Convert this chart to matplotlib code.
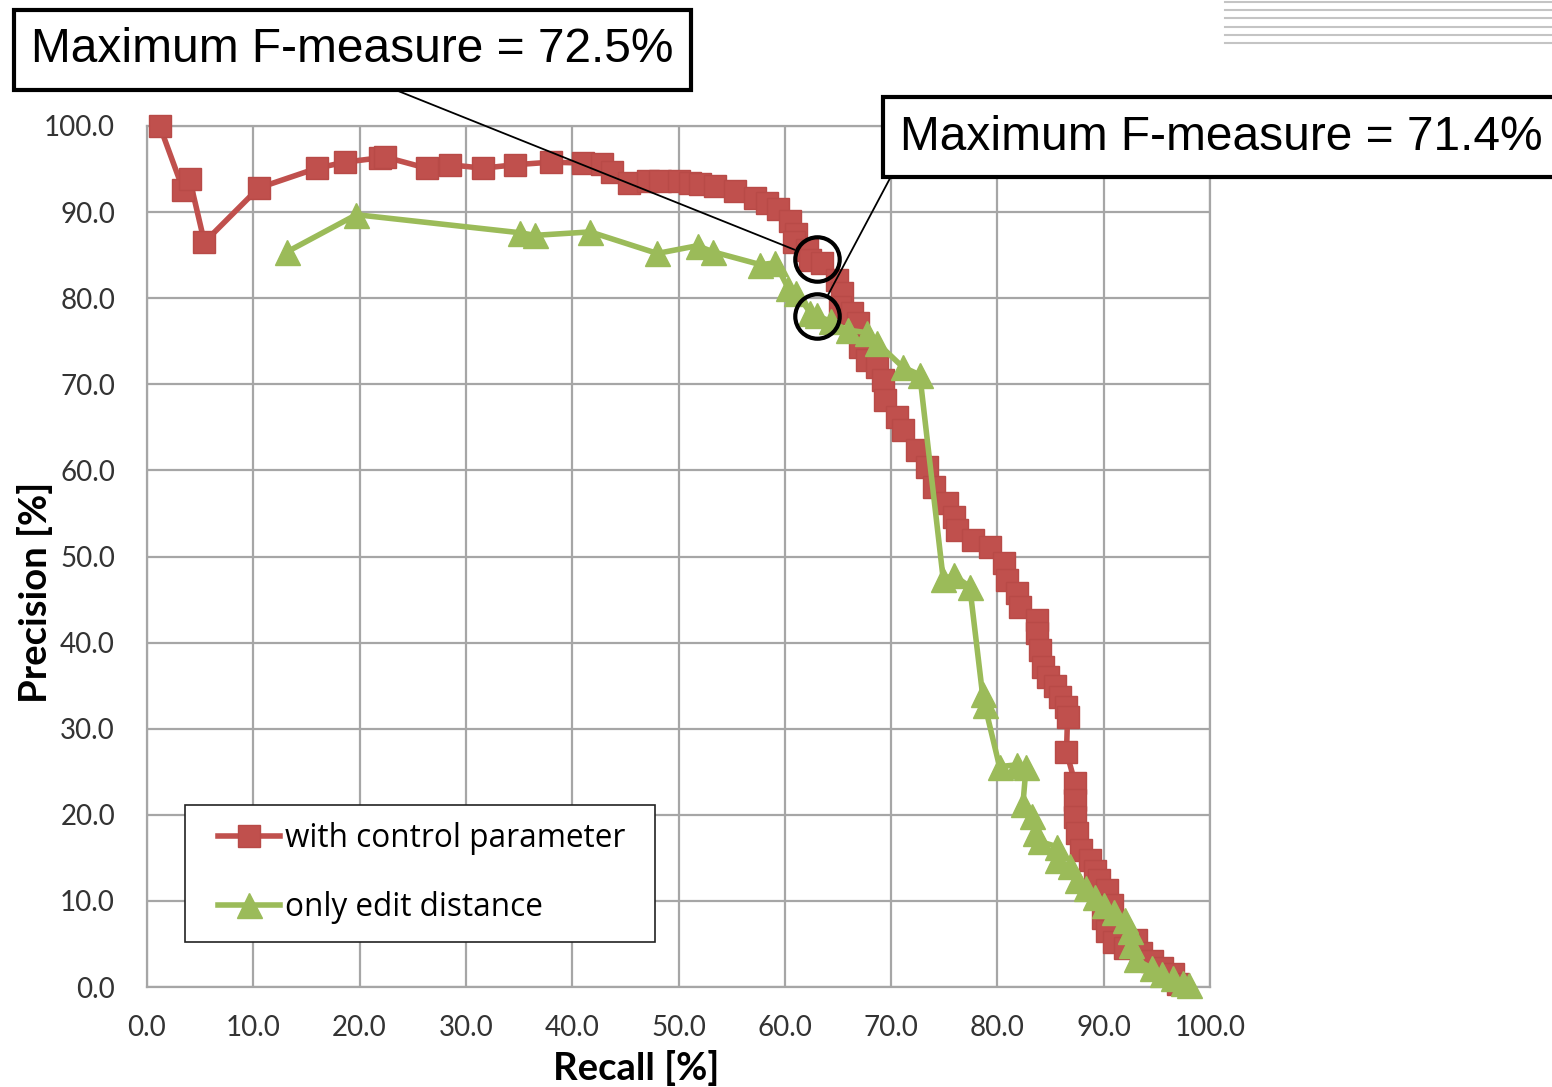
import matplotlib
matplotlib.use("Agg")
import matplotlib.pyplot as plt
from matplotlib.lines import Line2D
from matplotlib.patches import Rectangle

# ---- data ----
red_recall = [1.2, 3.4, 4.0, 5.4, 10.5, 16.0, 18.6, 21.9, 22.4, 26.3, 28.5, 31.6, 34.6,
              38.0, 41.0, 42.8, 43.7, 45.3, 47.1, 48.3, 50.0, 51.1, 52.0, 53.4, 55.3,
              57.2, 58.3, 59.4, 60.5, 61.1, 60.9, 62.1, 62.4, 63.5, 64.9, 65.4, 65.2,
              66.3, 66.9, 67.1, 67.7, 68.7, 69.2, 69.4, 70.6, 71.1, 72.4, 73.4, 74.0,
              75.3, 75.9, 76.2, 77.7, 79.3, 80.6, 80.9, 81.8, 82.1, 83.7, 83.7, 84.0,
              84.3, 84.8, 85.4, 85.9, 86.5, 86.6, 86.5, 87.3, 87.3, 87.3, 87.5, 87.9,
              88.7, 89.2, 89.6, 90.3, 90.8, 89.9, 90.3, 91.0, 92.0, 93.0, 93.5, 94.5,
              95.5, 96.5, 97.0]
red_precision = [100.0, 92.6, 93.9, 86.5, 92.8, 95.1, 95.8, 96.3, 96.4, 95.1, 95.5, 95.1, 95.5,
                 95.8, 95.7, 95.6, 94.6, 93.4, 93.6, 93.6, 93.6, 93.4, 93.3, 93.0, 92.5,
                 91.6, 91.1, 90.4, 89.0, 87.5, 86.5, 85.6, 84.4, 84.1, 82.1, 80.6, 79.0,
                 78.3, 77.1, 74.3, 72.8, 72.0, 70.5, 68.2, 66.2, 64.7, 62.4, 60.4, 58.1,
                 56.2, 54.6, 53.1, 51.9, 51.1, 49.2, 47.3, 45.8, 44.1, 42.6, 41.1, 39.1,
                 37.2, 36.0, 35.0, 33.7, 32.5, 31.4, 27.3, 23.7, 21.7, 19.7, 17.9, 15.9,
                 14.7, 13.5, 12.4, 11.3, 9.5, 8.0, 6.5, 5.2, 4.5, 5.5, 4.0, 3.0,
                 2.2, 1.5, 0.3]

green_recall = [13.2, 19.7, 35.1, 36.5, 41.7, 48.0, 51.8, 53.2, 57.7, 59.1, 60.3, 61.1,
                62.4, 63.0, 64.3, 65.9, 67.7, 68.7, 71.1, 72.7, 74.9, 75.9, 77.4, 78.6,
                78.8, 80.2, 81.8, 82.7, 82.4, 83.3, 83.5, 84.0, 85.6, 85.6, 86.8, 87.5,
                88.3, 89.2, 90.0, 91.0, 92.0, 92.5, 92.6, 93.0, 94.5, 95.5, 96.5, 97.5, 98.0]
green_precision = [85.4, 89.7, 87.6, 87.3, 87.7, 85.2, 86.1, 85.4, 83.9, 84.1, 81.2, 80.6,
                   78.3, 78.0, 77.3, 76.3, 76.0, 74.8, 72.0, 71.1, 47.4, 47.8, 46.5, 34.0,
                   32.8, 25.6, 25.8, 25.6, 21.2, 19.9, 17.9, 16.9, 16.3, 14.8, 14.0, 12.4,
                   11.5, 10.5, 9.5, 8.7, 7.8, 6.5, 4.9, 3.2, 2.2, 1.5, 1.0, 0.5, 0.2]

best_red = (63.0, 84.6)
best_green = (63.0, 77.9)

series_labels = ["with control parameter", "only edit distance"]
ticks = [0, 10, 20, 30, 40, 50, 60, 70, 80, 90, 100]
tick_labels = ["0.0", "10.0", "20.0", "30.0", "40.0", "50.0", "60.0", "70.0", "80.0", "90.0", "100.0"]
ann_texts = ["Maximum F-measure = 72.5%", "Maximum F-measure = 71.4%"]

RED = "#C0504D"
GREEN = "#9BBB59"
GRID = "#A6A6A6"

W, H = 1552, 1087
fig = plt.figure(figsize=(W / 100, H / 100), dpi=100)
ax = fig.add_axes([147 / W, 1 - 987 / H, (1210 - 147) / W, (987 - 126) / H])

ax.plot(red_recall, red_precision, color=RED, lw=4, marker="s", ms=16.5,
        mfc=RED, mec="#B84A47", clip_on=False, zorder=3, label=series_labels[0])
ax.plot(green_recall, green_precision, color=GREEN, lw=4, marker="^", ms=18,
        mfc=GREEN, mec=GREEN, clip_on=False, zorder=4, label=series_labels[1])

ax.set_xlim(0, 100)
ax.set_ylim(0, 100)
ax.set_xticks(ticks)
ax.set_yticks(ticks)
ax.set_xticklabels(tick_labels)
ax.set_yticklabels(tick_labels)
ax.grid(True, color=GRID, lw=1.6)
ax.set_axisbelow(True)
for s in ax.spines.values():
    s.set_color(GRID)
    s.set_linewidth(1.6)
ax.tick_params(length=0, labelsize=20, colors="#333333")
ax.tick_params(axis="y", pad=23)
ax.tick_params(axis="x", pad=20)
for lab in ax.get_xticklabels() + ax.get_yticklabels():
    lab.set_family("Lato")

ax.set_xlabel("Recall [%]", family="Lato", fontweight="bold", fontsize=27.5, va="center")
ax.set_ylabel("Precision [%]", family="Lato", fontweight="bold", fontsize=27.5, va="center")
ax.xaxis.set_label_coords((636 - 147) / 1063, (987 - 1068) / 861)
ax.yaxis.set_label_coords((35 - 147) / 1063, (987 - 592) / 861)

# legend frame drawn as a plain rectangle, legend entries placed inside it
ax.add_patch(Rectangle(((185 - 147) / 1063, (987 - 942) / 861), 470 / 1063, 137 / 861,
                       transform=ax.transAxes, fc="white", ec="#222222", lw=1.2, zorder=5))
leg = ax.legend(loc="center left", bbox_to_anchor=((218 - 147) / 1063, (987 - 873) / 861),
                prop={"family": "Open Sans", "size": 22.7}, frameon=False,
                handlelength=1.97, handletextpad=0.16, labelspacing=1.14, borderpad=0,
                borderaxespad=0, numpoints=1)
leg.set_zorder(6)

# circles marking the maxima
ax.plot([best_red[0]], [best_red[1]], marker="o", ms=32, mfc="none", mec="black", mew=3, zorder=6)
ax.plot([best_green[0]], [best_green[1]], marker="o", ms=32, mfc="none", mec="black", mew=3, zorder=6)

ax.annotate(ann_texts[0], xy=best_red, xycoords="data",
            xytext=(352 / W, 1 - 50 / H), textcoords="figure fraction",
            ha="center", va="center", fontsize=34.5, family="Liberation Sans",
            bbox=dict(boxstyle="square,pad=0.36", fc="white", ec="black", lw=3),
            arrowprops=dict(arrowstyle="-", color="black", lw=1.3, relpos=(0.5, 0.0),
                            shrinkA=0, shrinkB=17), zorder=7)
ax.annotate(ann_texts[1], xy=best_green, xycoords="data",
            xytext=(900 / W, 1 - 137 / H), textcoords="figure fraction",
            ha="left", va="center", fontsize=34.5, family="Liberation Sans",
            bbox=dict(boxstyle="square,pad=0.36", fc="white", ec="black", lw=3),
            arrowprops=dict(arrowstyle="-", color="black", lw=1.3, relpos=(0.0, 0.0),
                            shrinkA=0, shrinkB=17), zorder=7)

# decorative grey lines at top-right
for yy in [2, 10, 18, 27, 35, 43]:
    fig.add_artist(Line2D([1225 / W, 1.0], [1 - yy / H, 1 - yy / H], transform=fig.transFigure,
                          color="#C4C4C4", lw=1.5))

fig.savefig("out.png", dpi=100)
